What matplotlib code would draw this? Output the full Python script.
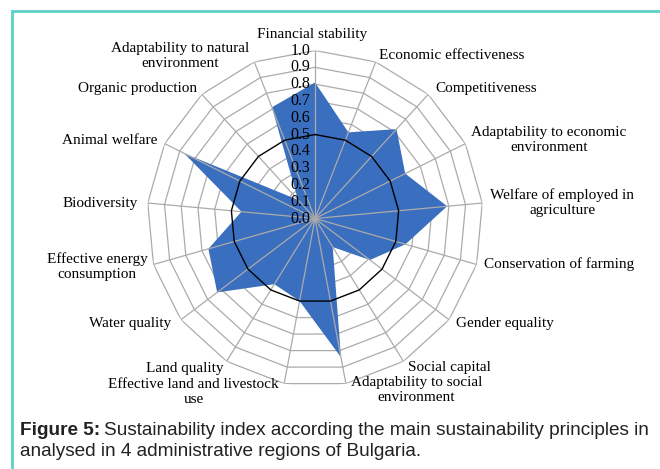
import numpy as np
import matplotlib
matplotlib.use('Agg')
import matplotlib.pyplot as plt
from matplotlib.patches import Rectangle

# Sustainability principles, clockwise from the top
categories = [
    'Financial stability',
    'Economic effectiveness',
    'Competitiveness',
    'Adaptability to economic\nenvironment',
    'Welfare of employed in\nagriculture',
    'Conservation of farming',
    'Gender equality',
    'Social capital',
    'Adaptability to social\nenvironment',
    'Effective land and livestock\nuse',
    'Land quality',
    'Water quality',
    'Effective energy\nconsumption',
    'Biodiversity',
    'Animal welfare',
    'Organic production',
    'Adaptability to natural\nenvironment',
]
values = [0.81, 0.55, 0.72, 0.60, 0.79, 0.56, 0.41, 0.20, 0.84,
          0.50, 0.46, 0.73, 0.66, 0.44, 0.87, 0.15, 0.71]
ring_levels = [0.1, 0.2, 0.3, 0.4, 0.5, 0.6, 0.7, 0.8, 0.9, 1.0]
tick_values = [0.0, 0.1, 0.2, 0.3, 0.4, 0.5, 0.6, 0.7, 0.8, 0.9, 1.0]
tick_labels = ['0.0', '0.1', '0.2', '0.3', '0.4', '0.5',
               '0.6', '0.7', '0.8', '0.9', '1.0']

# label placement around the outer ring (pixel offsets from the vertex)
label_ha = ['center', 'left', 'left', 'left', 'left', 'left', 'left', 'left', 'left',
            'right', 'right', 'right', 'right', 'right', 'right', 'right', 'right']
label_off = [(-3, 16), (3, 6), (7, 6), (6, 4), (8, 0), (7, 0), (7, -4), (5, -6), (5, -6),
             (-5, -8), (-3, -7), (-10, -4), (-6, -2), (-10, 0), (-7, 3), (-5, 6), (-5, 6)]

serif = 'Liberation Serif'
grid_col = '#ABABAB'
fill_col = '#3A6EBF'

n = len(categories)
angles = np.arange(n) * 2 * np.pi / n
angles_closed = np.append(angles, angles[0])
values_closed = np.append(values, values[0])

fig = plt.figure(figsize=(6.6, 4.69), dpi=100)
ax = fig.add_axes([0.2228, 0.1759, 0.509, 0.7164], projection='polar')
ax.set_theta_zero_location('N')
ax.set_theta_direction(-1)
ax.set_ylim(0, 1)
ax.axis('off')

for r in ring_levels:
    if r == 0.5:
        continue
    ax.plot(angles_closed, [r] * (n + 1), color=grid_col, lw=0.9, zorder=1)

ax.fill(angles_closed, values_closed, color=fill_col, lw=0, zorder=2)

for a in angles:
    ax.plot([a, a], [0, 1], color=grid_col, lw=0.9, zorder=3)

ax.plot(angles_closed, [0.5] * (n + 1), color='black', lw=1.0, zorder=4)

for r, lab in zip(tick_values, tick_labels):
    ax.annotate(lab, xy=(0, r), xytext=(-5, 0), textcoords='offset pixels',
                ha='right', va='center', fontsize=11.5, family=serif, zorder=6)

for a, lab, ha, off in zip(angles, categories, label_ha, label_off):
    ax.annotate(lab, xy=(a, 1.0), xytext=off, textcoords='offset pixels',
                ha=ha, va='center', multialignment='center',
                fontsize=11, family=serif, annotation_clip=False)

# frame around the figure (only left and top edges are inside the picture)
fig.patches.append(Rectangle((11.7 / 660, -0.1), 1.2, 1 - 11 / 469 + 0.1,
                             transform=fig.transFigure, fill=False,
                             edgecolor='#5BD2C4', lw=2))

# caption, in a narrow sans font, first line stretched to reach x=657px
cap_font = ['Liberation Sans Narrow', 'Liberation Sans']
cap_col = '#222222'
cap_size = 14
renderer = fig.canvas.get_renderer()
cap_y1 = 1 - 430 / 469
cap_y2 = 1 - 451 / 469
t1 = fig.text(20 / 660, cap_y1, 'Figure 5:', fontsize=cap_size, fontweight='bold',
              family=cap_font, va='center', color=cap_col)
bb = t1.get_window_extent(renderer)
t2 = fig.text((bb.x1 + 4) / fig.bbox.width, cap_y1,
              'Sustainability index according the main sustainability principles in',
              fontsize=cap_size, family=cap_font, va='center', color=cap_col)
bb2 = t2.get_window_extent(renderer)
scale = (657 - 20) / (bb2.x1 - bb.x0)
cap_size = cap_size * scale
t1.set_fontsize(cap_size)
bb = t1.get_window_extent(renderer)
t2.set_fontsize(cap_size)
t2.set_x((bb.x1 + 4) / fig.bbox.width)
fig.text(20 / 660, cap_y2, 'analysed in 4 administrative regions of Bulgaria.',
         fontsize=cap_size, family=cap_font, va='center', color=cap_col)

fig.savefig('out.png', dpi=100)
